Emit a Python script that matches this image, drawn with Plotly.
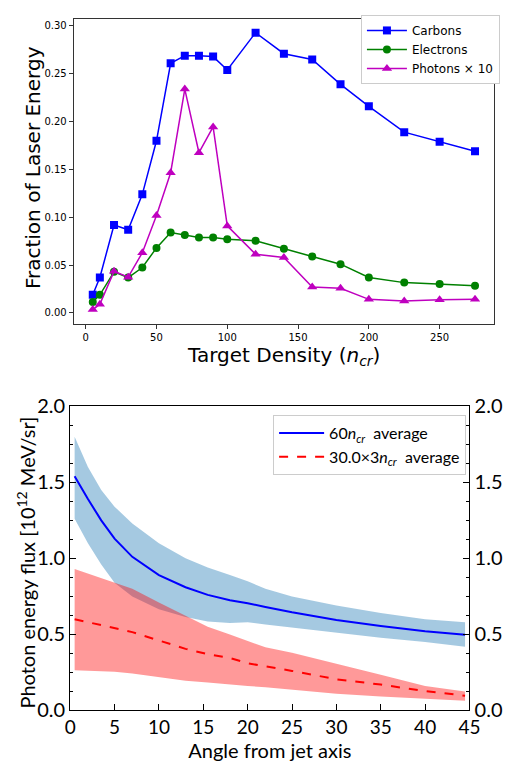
import plotly.graph_objects as go

# ---------------- Top panel data ----------------
density = [5, 10, 20, 30, 40, 50, 60, 70, 80, 90, 100, 120, 140, 160, 180, 200, 225, 250, 275]
carbons = [0.019, 0.037, 0.092, 0.087, 0.124, 0.180, 0.261, 0.269, 0.269, 0.268, 0.254, 0.293,
           0.271, 0.265, 0.239, 0.216, 0.189, 0.179, 0.169]
electrons = [0.0115, 0.019, 0.043, 0.037, 0.0475, 0.068, 0.084, 0.0815, 0.079, 0.079, 0.077, 0.0755,
             0.067, 0.059, 0.051, 0.037, 0.0317, 0.0303, 0.0283]
photons_x10 = [0.0035, 0.009, 0.0435, 0.0374, 0.063, 0.1018, 0.1466, 0.234, 0.1675, 0.1945, 0.091,
               0.0614, 0.058, 0.027, 0.0257, 0.0142, 0.0125, 0.0139, 0.0142]

# ---------------- Bottom panel data ----------------
angle = [0.5, 2, 3.5, 5, 7, 10, 13, 15.5, 18, 20, 22, 25, 30, 35, 40, 44.5]
avg60 = [1.54, 1.39, 1.25, 1.13, 1.01, 0.89, 0.81, 0.76, 0.725, 0.705, 0.68, 0.645, 0.595, 0.555, 0.52, 0.497]
avg60_hi = [1.80, 1.60, 1.45, 1.34, 1.23, 1.10, 1.00, 0.94, 0.89, 0.85, 0.80, 0.75, 0.69, 0.64, 0.60, 0.58]
avg60_lo = [1.26, 1.10, 0.96, 0.84, 0.75, 0.665, 0.615, 0.585, 0.575, 0.58, 0.565, 0.545, 0.51, 0.478, 0.45, 0.418]
avg30 = [0.60, 0.58, 0.56, 0.545, 0.515, 0.46, 0.405, 0.37, 0.345, 0.31, 0.29, 0.26, 0.205, 0.17, 0.127, 0.097]
avg30_hi = [0.93, 0.90, 0.875, 0.84, 0.80, 0.71, 0.62, 0.55, 0.50, 0.46, 0.415, 0.38, 0.31, 0.235, 0.16, 0.125]
avg30_lo = [0.265, 0.262, 0.26, 0.255, 0.243, 0.218, 0.195, 0.183, 0.168, 0.16, 0.153, 0.137, 0.11, 0.091, 0.075, 0.064]

W, H = 509, 766
def px(x): return x / W
def py(y): return 1 - y / H

fig = go.Figure()

# top traces
fig.add_trace(go.Scatter(x=density, y=carbons, mode="lines+markers", name="Carbons",
                         line=dict(color="#0000ff", width=1.5),
                         marker=dict(symbol="square", size=8, color="#0000ff"),
                         xaxis="x", yaxis="y", legend="legend"))
fig.add_trace(go.Scatter(x=density, y=electrons, mode="lines+markers", name="Electrons",
                         line=dict(color="#008000", width=1.5),
                         marker=dict(symbol="circle", size=8, color="#008000"),
                         xaxis="x", yaxis="y", legend="legend"))
fig.add_trace(go.Scatter(x=density, y=photons_x10, mode="lines+markers", name="Photons × 10",
                         line=dict(color="#bf00bf", width=1.5),
                         marker=dict(symbol="triangle-up", size=9, color="#bf00bf"),
                         xaxis="x", yaxis="y", legend="legend"))

# bottom bands
fig.add_trace(go.Scatter(x=angle, y=avg60_hi, mode="lines", line=dict(width=0, color="rgba(0,0,0,0)"),
                         showlegend=False, hoverinfo="skip", xaxis="x2", yaxis="y2"))
fig.add_trace(go.Scatter(x=angle, y=avg60_lo, mode="lines", line=dict(width=0, color="rgba(0,0,0,0)"),
                         fill="tonexty", fillcolor="rgba(31,119,180,0.4)",
                         showlegend=False, hoverinfo="skip", xaxis="x2", yaxis="y2"))
fig.add_trace(go.Scatter(x=angle, y=avg30_hi, mode="lines", line=dict(width=0, color="rgba(0,0,0,0)"),
                         showlegend=False, hoverinfo="skip", xaxis="x2", yaxis="y2"))
fig.add_trace(go.Scatter(x=angle, y=avg30_lo, mode="lines", line=dict(width=0, color="rgba(0,0,0,0)"),
                         fill="tonexty", fillcolor="rgba(255,0,0,0.4)",
                         showlegend=False, hoverinfo="skip", xaxis="x2", yaxis="y2"))
fig.add_trace(go.Scatter(x=angle, y=avg60, mode="lines",
                         name="60<i>n</i><sub><i>cr</i></sub>  average",
                         line=dict(color="#0000ff", width=2),
                         xaxis="x2", yaxis="y2", legend="legend2"))
fig.add_trace(go.Scatter(x=angle, y=avg30, mode="lines",
                         name="30.0×3<i>n</i><sub><i>cr</i></sub>  average",
                         line=dict(color="#ff0000", width=2, dash="dash"),
                         xaxis="x2", yaxis="y2", legend="legend2"))
# dummy trace so the right-hand axis shows
fig.add_trace(go.Scatter(x=[None], y=[None], xaxis="x2", yaxis="y3", showlegend=False, hoverinfo="skip"))

dv = "DejaVu Sans"
cm = "Lato"
frame = "#333333"

fig.update_layout(
    width=W, height=H, margin=dict(l=0, r=0, t=0, b=0),
    paper_bgcolor="white", plot_bgcolor="white",
    font=dict(family=dv, color="black"),
    xaxis=dict(domain=[px(70), px(505)], anchor="y", range=[-8.5, 288.5],
               tickvals=[0, 50, 100, 150, 200, 250], ticks="outside", ticklen=4, tickcolor=frame,
               showline=True, linecolor=frame, linewidth=1, mirror=True, showgrid=False, zeroline=False,
               tickfont=dict(family=dv, size=10)),
    yaxis=dict(domain=[py(321), py(6)], anchor="x", range=[-0.0115, 0.3075],
               tickvals=[0, 0.05, 0.10, 0.15, 0.20, 0.25, 0.30], tickformat=".2f",
               ticks="outside", ticklen=4, tickcolor=frame,
               showline=True, linecolor=frame, linewidth=1, mirror=True, showgrid=False, zeroline=False,
               tickfont=dict(family=dv, size=10)),
    xaxis2=dict(domain=[px(66.4), px(479.5)], anchor="y2", range=[0, 45], dtick=5, tick0=0,
                ticks="inside", ticklen=6, tickcolor="black",
                showline=True, linecolor="black", linewidth=1.2, mirror=True, showgrid=False, zeroline=False,
                tickfont=dict(family=cm, size=19),
                title=dict(text="Angle from jet axis", font=dict(family=cm, size=20), standoff=0)),
    yaxis2=dict(domain=[py(720), py(406)], anchor="x2", range=[0, 2], dtick=0.5, tick0=0, tickformat=".1f",
                ticks="inside", ticklen=6, tickcolor="black",
                minor=dict(ticks="inside", dtick=0.125, tick0=0, ticklen=3, tickcolor="black"),
                showline=True, linecolor="black", linewidth=1.2, showgrid=False, zeroline=False,
                tickfont=dict(family=cm, size=20)),
    yaxis3=dict(domain=[py(720), py(406)], anchor="x2", overlaying="y2", side="right",
                range=[0, 2], dtick=0.5, tick0=0, tickformat=".1f",
                ticks="inside", ticklen=6, tickcolor="black",
                minor=dict(ticks="inside", dtick=0.125, tick0=0, ticklen=3, tickcolor="black"),
                showline=True, linecolor="black", linewidth=1.2, showgrid=False, zeroline=False,
                tickfont=dict(family=cm, size=20)),
    legend=dict(x=px(511), y=py(2), xanchor="right", yanchor="top", traceorder="normal",
                bgcolor="white", bordercolor="#cccccc", borderwidth=1,
                font=dict(family=dv, size=12), itemwidth=40, tracegroupgap=0),
    legend2=dict(x=px(476), y=py(415), xanchor="right", yanchor="top", traceorder="normal",
                 bgcolor="white", bordercolor="#cccccc", borderwidth=1,
                 font=dict(family=cm, size=16), itemwidth=45, tracegroupgap=0),
    showlegend=True,
)

fig.add_annotation(text="Fraction of Laser Energy", x=px(28), y=py(160), xref="paper", yref="paper",
                   textangle=-90, showarrow=False, font=dict(family=dv, size=20), xanchor="center", yanchor="middle")
fig.add_annotation(text="Target Density (<i>n</i><sub><i>cr</i></sub>)", x=px(287), y=py(354),
                   xref="paper", yref="paper", showarrow=False, font=dict(family=dv, size=20),
                   xanchor="center", yanchor="middle")
fig.add_annotation(text="Photon energy flux [10<sup>12</sup> MeV/sr]", x=px(21), y=py(567),
                   xref="paper", yref="paper", textangle=-90, showarrow=False,
                   font=dict(family=cm, size=20), xanchor="center", yanchor="middle")

fig.write_html("out.html")
